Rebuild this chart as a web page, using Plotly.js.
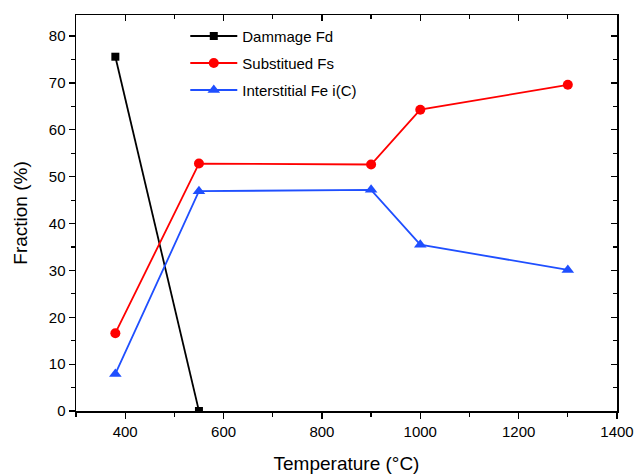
<!DOCTYPE html>
<html>
<head>
<meta charset="utf-8">
<script src="https://cdn.plot.ly/plotly-3.0.1.min.js"></script>
<style>html,body{margin:0;padding:0;background:#fff;}#chart{width:637px;height:474px;}</style>
</head>
<body>
<div id="chart"></div>
<script>
var temperature = [380, 550, 900, 1000, 1300];
var damageTemp = [380, 550];
var damageFd = [75.6, 0];
var substituedFs = [16.6, 52.8, 52.6, 64.3, 69.6];
var interstitialFe = [7.9, 46.9, 47.2, 35.5, 30.1];
var seriesNames = ["Dammage Fd", "Substitued Fs", "Interstitial Fe i(C)"];

var font = "Liberation Sans, Arial, sans-serif";
var traces = [
  {x: damageTemp, y: damageFd, name: seriesNames[0], mode: "lines+markers", legendgroup: "a",
   line: {color: "#000000", width: 1.8}, marker: {symbol: "square", size: 8, color: "#000000"}},
  {x: temperature, y: substituedFs, name: seriesNames[1], mode: "lines+markers", legendgroup: "b",
   line: {color: "#ff0000", width: 1.8}, marker: {symbol: "circle", size: 10, color: "#ff0000"}},
  {x: temperature, y: interstitialFe, name: seriesNames[2], mode: "lines+markers", legendgroup: "c",
   line: {color: "#1f4fff", width: 1.8}, marker: {symbol: "triangle-up", size: 11, color: "#1f4fff"}},
  {x: damageTemp, y: damageFd, xaxis: "x2", yaxis: "y2", mode: "lines", opacity: 0,
   showlegend: false, hoverinfo: "skip"}
];

var common = {showgrid: false, zeroline: false, showline: true, linecolor: "#000", linewidth: 1.5,
  tickcolor: "#000", tickwidth: 1.2};
var layout = {
  width: 637, height: 474,
  margin: {l: 76, r: 20, t: 15, b: 63},
  paper_bgcolor: "#fff", plot_bgcolor: "#fff",
  font: {family: font, color: "#000"},
  showlegend: true,
  legend: {x: 0.202, y: 0.988, xanchor: "left", yanchor: "top", bgcolor: "rgba(0,0,0,0)",
    font: {family: font, size: 15, color: "#000"}, traceorder: "grouped", tracegroupgap: 4.5, itemwidth: 47},
  xaxis: Object.assign({}, common, {range: [300, 1400], dtick: 200, tick0: 0, ticks: "outside", ticklen: 6,
    minor: {dtick: 100, ticks: "outside", ticklen: 4, tickcolor: "#000", tickwidth: 1.2},
    tickfont: {family: font, size: 15}, title: {text: "Temperature (°C)", font: {family: font, size: 19}, standoff: 18}}),
  yaxis: Object.assign({}, common, {range: [0, 84.5], dtick: 10, ticks: "outside", ticklen: 6,
    minor: {dtick: 5, ticks: "outside", ticklen: 4, tickcolor: "#000", tickwidth: 1.2},
    tickfont: {family: font, size: 15}, title: {text: "Fraction (%)", font: {family: font, size: 19}, standoff: 16}}),
  xaxis2: Object.assign({}, common, {overlaying: "x", side: "top", anchor: "y2", range: [300, 1400], dtick: 200,
    ticks: "inside", ticklen: 6, showticklabels: false,
    minor: {dtick: 100, ticks: "inside", ticklen: 4, tickcolor: "#000", tickwidth: 1.2}}),
  yaxis2: Object.assign({}, common, {overlaying: "y", side: "right", anchor: "x2", range: [0, 84.5], dtick: 10,
    ticks: "inside", ticklen: 6, showticklabels: false,
    minor: {dtick: 5, ticks: "inside", ticklen: 4, tickcolor: "#000", tickwidth: 1.2}})
};
Plotly.newPlot("chart", traces, layout, {staticPlot: true, displayModeBar: false});
</script>
</body>
</html>
